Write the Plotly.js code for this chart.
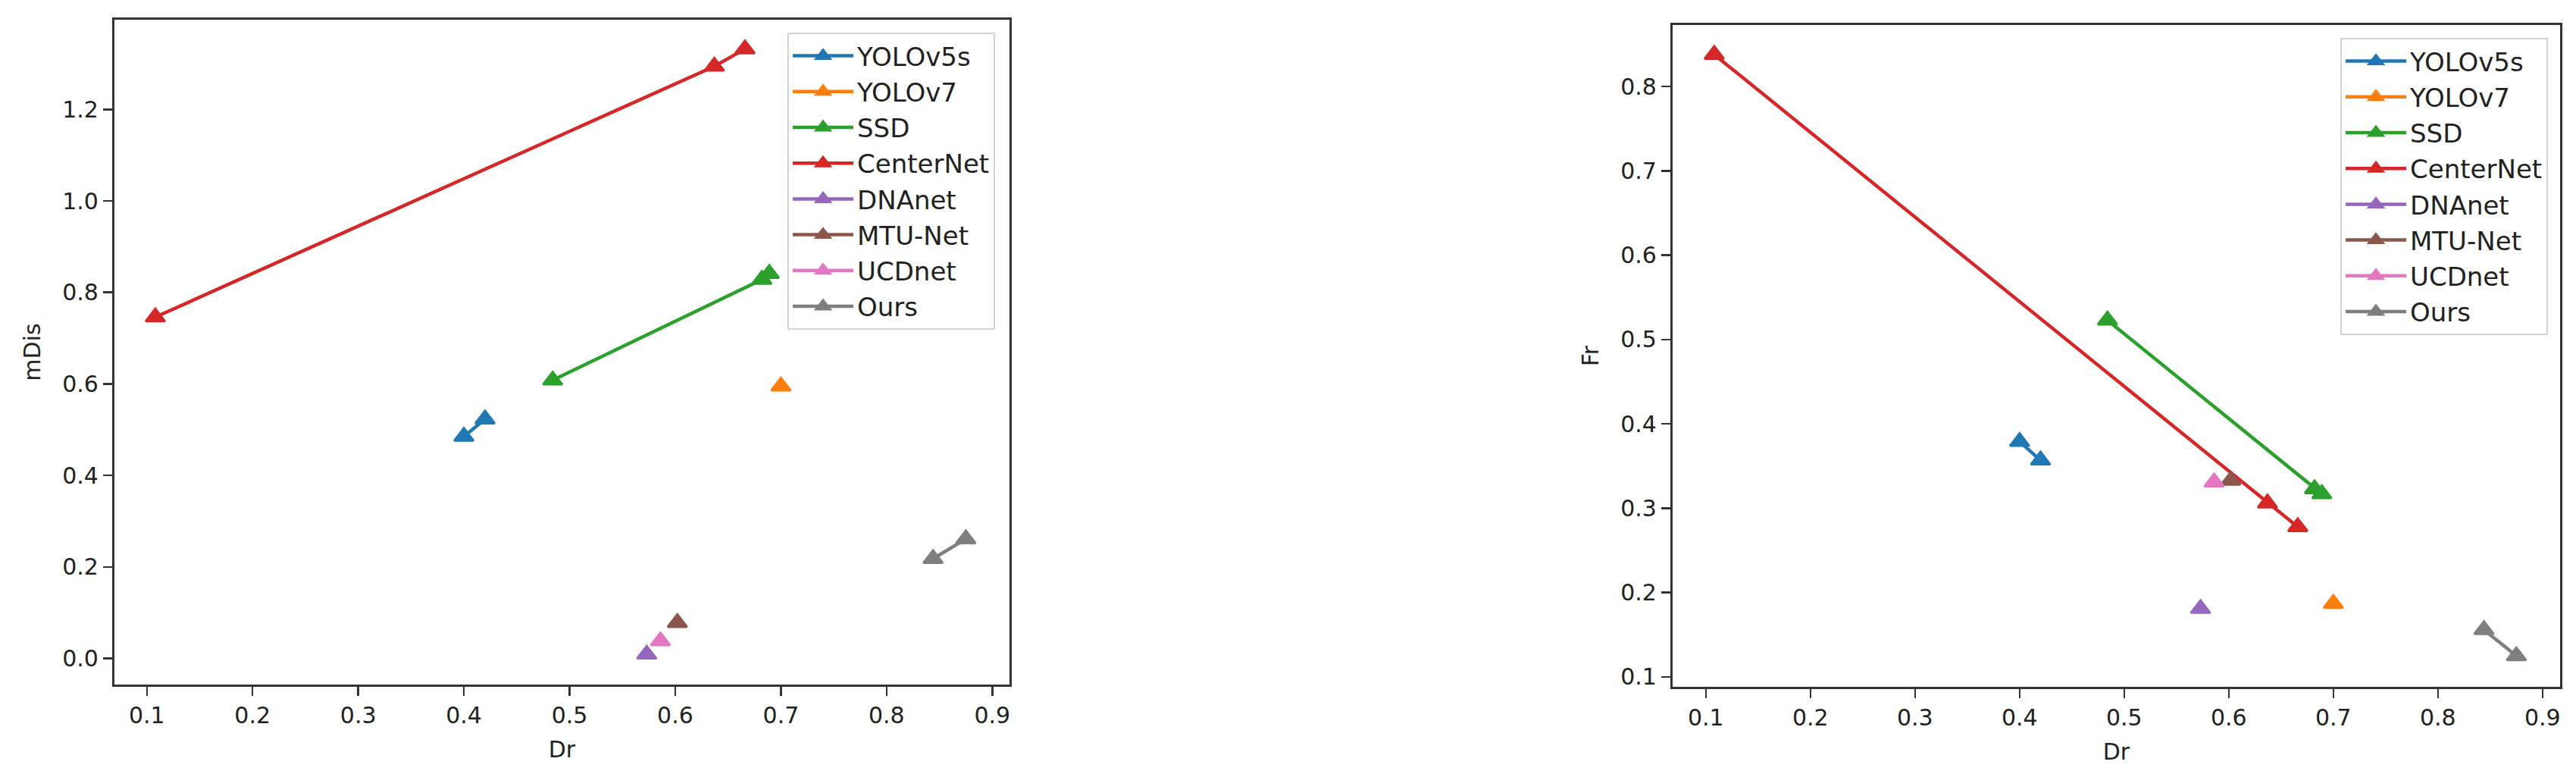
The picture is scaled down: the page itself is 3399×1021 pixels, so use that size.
<!DOCTYPE html>
<html>
<head>
<meta charset="utf-8">
<script src="https://cdn.plot.ly/plotly-3.0.1.min.js"></script>
<style>html,body{margin:0;padding:0;background:#fff;}#chart{width:3399px;height:1021px;}</style>
</head>
<body>
<div id="chart"></div>
<script>
// ---- data ----
const methods = ["YOLOv5s", "YOLOv7", "SSD", "CenterNet", "DNAnet", "MTU-Net", "UCDnet", "Ours"];
const colors  = ["#1f77b4", "#ff7f0e", "#2ca02c", "#d62728", "#9467bd", "#8c564b", "#e377c2", "#7f7f7f"];

const dr_yolov5s   = [0.400, 0.420];
const dr_yolov7    = [0.700];
const dr_ssd       = [0.484, 0.682, 0.689];
const dr_centernet = [0.108, 0.637, 0.666];
const dr_dnanet    = [0.573];
const dr_mtunet    = [0.602];
const dr_ucdnet    = [0.586];
const dr_ours      = [0.844, 0.875];

const mdis_yolov5s   = [0.485, 0.523];
const mdis_yolov7    = [0.595];
const mdis_ssd       = [0.608, 0.828, 0.841];
const mdis_centernet = [0.746, 1.294, 1.332];
const mdis_dnanet    = [0.009];
const mdis_mtunet    = [0.078];
const mdis_ucdnet    = [0.038];
const mdis_ours      = [0.218, 0.261];

const fr_yolov5s   = [0.379, 0.357];
const fr_yolov7    = [0.187];
const fr_ssd       = [0.523, 0.323, 0.317];
const fr_centernet = [0.838, 0.306, 0.278];
const fr_dnanet    = [0.181];
const fr_mtunet    = [0.333];
const fr_ucdnet    = [0.331];
const fr_ours      = [0.156, 0.125];

const xTickVals = [0.1, 0.2, 0.3, 0.4, 0.5, 0.6, 0.7, 0.8, 0.9];
const mdisTickVals = [0.0, 0.2, 0.4, 0.6, 0.8, 1.0, 1.2];
const frTickVals = [0.1, 0.2, 0.3, 0.4, 0.5, 0.6, 0.7, 0.8];

const drSets   = [dr_yolov5s, dr_yolov7, dr_ssd, dr_centernet, dr_dnanet, dr_mtunet, dr_ucdnet, dr_ours];
const mdisSets = [mdis_yolov5s, mdis_yolov7, mdis_ssd, mdis_centernet, mdis_dnanet, mdis_mtunet, mdis_ucdnet, mdis_ours];
const frSets   = [fr_yolov5s, fr_yolov7, fr_ssd, fr_centernet, fr_dnanet, fr_mtunet, fr_ucdnet, fr_ours];

// ---- traces ----
const traces = [];
function addTraces(ySets, xa, ya, legendId) {
  methods.forEach((m, i) => {
    traces.push({
      type: "scatter", mode: "lines+markers", name: m,
      x: drSets[i], y: ySets[i], xaxis: xa, yaxis: ya, legend: legendId,
      line: {color: colors[i], width: 4.5},
      marker: {symbol: "triangle-up", size: 22, color: colors[i], line: {color: colors[i], width: 3}}
    });
  });
}
addTraces(mdisSets, "x", "y", "legend");
addTraces(frSets, "x2", "y2", "legend2");

const fontFam = "DejaVu Sans, sans-serif";
function axisBase(extra) {
  return Object.assign({
    showgrid: false, zeroline: false, showline: true, mirror: true,
    linecolor: "#333", linewidth: 3,
    ticks: "outside", ticklen: 12, tickwidth: 2.5, tickcolor: "#333",
    tickfont: {family: fontFam, size: 30, color: "#222"},
    tickformat: ".1f"
  }, extra);
}
function legendBase(x, y) {
  return {
    x: x, y: y, xanchor: "right", yanchor: "top",
    bgcolor: "rgba(255,255,255,0.8)", bordercolor: "#d4d4d4", borderwidth: 2,
    font: {family: fontFam, size: 34, color: "#222"},
    itemwidth: 80, tracegroupgap: 0
  };
}

const layout = {
  width: 3399, height: 1021,
  margin: {l: 0, r: 0, t: 0, b: 0},
  paper_bgcolor: "#fff", plot_bgcolor: "#fff",
  showlegend: true,
  xaxis: axisBase({domain: [0.04442, 0.39188], range: [0.0693, 0.9163], tickvals: xTickVals, anchor: "y",
    title: {text: "Dr", font: {family: fontFam, size: 30, color: "#222"}, standoff: 18}}),
  yaxis: axisBase({domain: [0.11557, 0.97453], range: [-0.0571, 1.396], tickvals: mdisTickVals, anchor: "x",
    title: {text: "mDis", font: {family: fontFam, size: 30, color: "#222"}, standoff: 20}}),
  xaxis2: axisBase({domain: [0.6493, 0.99382], range: [0.0682, 0.9168], tickvals: xTickVals, anchor: "y2",
    title: {text: "Dr", font: {family: fontFam, size: 30, color: "#222"}, standoff: 18}}),
  yaxis2: axisBase({domain: [0.11263, 0.96768], range: [0.0883, 0.873], tickvals: frTickVals, anchor: "x2",
    title: {text: "Fr", font: {family: fontFam, size: 30, color: "#222"}, standoff: 20}}),
  legend: legendBase(0.3863, 0.9579),
  legend2: legendBase(0.98912, 0.95103)
};

Plotly.newPlot("chart", traces, layout, {displayModeBar: false, staticPlot: true});
</script>
</body>
</html>
